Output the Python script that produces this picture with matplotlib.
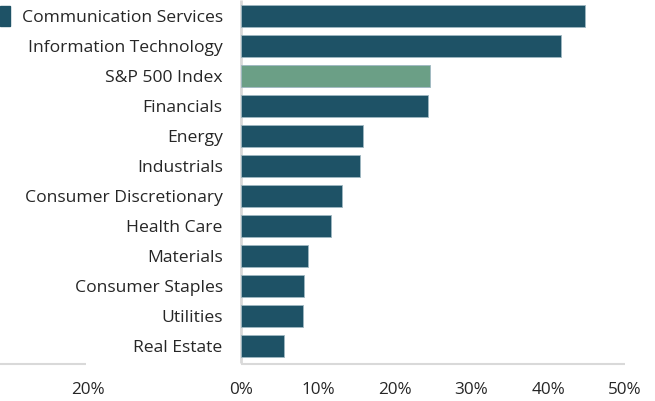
import matplotlib.pyplot as plt
from matplotlib.patches import Rectangle

sectors = ['Communication Services', 'Information Technology', 'S&P 500 Index',
           'Financials', 'Energy', 'Industrials', 'Consumer Discretionary',
           'Health Care', 'Materials', 'Consumer Staples', 'Utilities', 'Real Estate']
returns = [44.8, 41.7, 24.6, 24.3, 15.9, 15.5, 13.2, 11.7, 8.7, 8.2, 8.0, 5.6]
tick_vals = [-20, 0, 10, 20, 30, 40, 50]
tick_labels = ['20%', '0%', '10%', '20%', '30%', '40%', '50%']

dark = '#1e5266'
green = '#6b9f86'
colors = [green if s == 'S&P 500 Index' else dark for s in sectors]

fig = plt.figure(figsize=(6.55, 4.01), dpi=100)
ax = fig.add_axes([0, 0, 1, 1])
ax.set_xlim(-31.4, 53.9)
ax.set_ylim(12.83, -0.53)
ax.axis('off')

ax.barh(range(len(sectors)), returns, height=0.72, color=colors,
        edgecolor='#9fb8c2', linewidth=0.6, zorder=3)

# vertical zero line
ax.vlines(0, -0.53, 11.55, color='#d9d9d9', linewidth=2, zorder=2)
# broken horizontal axis
ax.hlines(11.6, -31.4, -20.2, color='#d9d9d9', linewidth=1.5)
ax.hlines(11.6, 0, 50, color='#d9d9d9', linewidth=1.5)

for i, s in enumerate(sectors):
    ax.text(-2.4, i + 0.07, s, ha='right', va='center', fontsize=12.6,
            color='#262626', family='Open Sans')

for v, lab in zip(tick_vals, tick_labels):
    ax.text(v, 12.45, lab, ha='center', va='center', fontsize=12.3,
            color='#262626', family='Open Sans')

# cropped legend marker in the corner
fig.patches.append(Rectangle((0, 1 - 26 / 401), 10 / 655, 20 / 401,
                             transform=fig.transFigure, color=dark))

fig.savefig('out.png', dpi=100)
